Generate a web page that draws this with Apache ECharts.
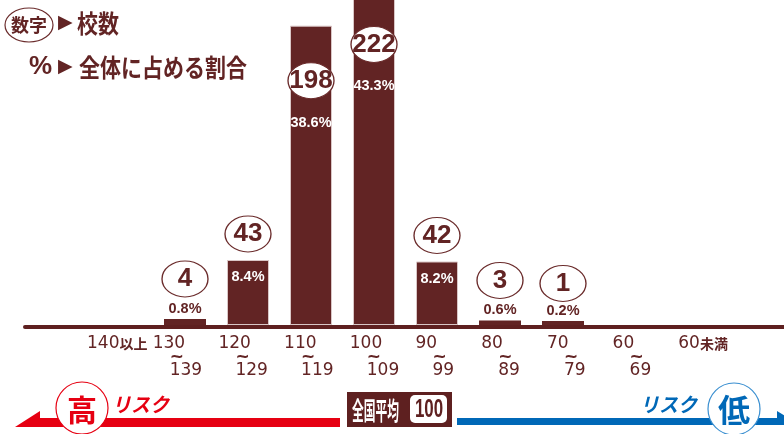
<!DOCTYPE html>
<html><head><meta charset="utf-8">
<script src="https://cdn.jsdelivr.net/npm/echarts@6/dist/echarts.min.js"></script>
<style>html,body{margin:0;padding:0;background:#fff}#c{width:784px;height:434px}</style>
</head><body><div id="c"></div>
<script>
const categories = ['140以上','130~139','120~129','110~119','100~109','90~99','80~89','70~79','60~69','60未満'];
const labelTop = ['140以上','130','120','110','100','90','80','70','60','60未満'];
const labelBottom = ['','139','129','119','109','99','89','79','69',''];
const counts = [0,4,43,198,222,42,3,1,0,0];
const shares = [null,0.8,8.4,38.6,43.3,8.2,0.6,0.2,null,null];

const DARK = '#622424';
const chart = echarts.init(document.getElementById('c'));

const barData = counts.map((v,i) => {
  if (!v) return '-';
  let lab, item = {};
  if (v >= 100) lab = {show:true, position:'insideTop', distance:5, offset:[0,84], color:'#fff'};
  else if (v >= 20) lab = {show:true, position:'insideTop', distance:5, offset:[0,4], color:'#fff'};
  else { lab = {show:true, position:'top', distance:5, offset:[0,3], color:DARK}; item = {borderWidth:0}; }
  return {value:v, label:lab, itemStyle:item};
});
const ellData = counts.map(v => v ? {value:v, symbolOffset:[0, v>=100 ? 55 : (v>=20 ? -26 : -40)]} : '-');

const txt = (x,y,text,font,fill,extra) => Object.assign({type:'text', x:x, y:y, z:10,
  style:{text:text, font:font, fill:fill, textAlign:'left', textVerticalAlign:'middle', align:'left', verticalAlign:'middle'}}, extra||{});
const CJK = "'Noto Sans CJK JP', sans-serif";
const topLabel = s => s.replace(/^(\d+)(.*)$/, (m,d,r) => r ? `{a|${d}}{c|${r}}` : `{a|${d}}`);

chart.setOption({
  animation:false,
  grid:[
    {left:90.5, right:63.5, top:0, bottom:109},
    {left:54.15, right:72.85, top:0, bottom:109},
    {left:25, right:0, top:0, bottom:107}
  ],
  xAxis:[
    {gridIndex:0, type:'category', data:categories, show:false},
    {gridIndex:1, type:'category', data:labelTop, axisLine:{show:false}, axisTick:{show:false},
      axisLabel:{interval:0, align:'left', margin:11, color:DARK,
        formatter:(val,idx) => labelBottom[idx] ? `${topLabel(labelTop[idx])}\n{t|~}\n{b|${labelBottom[idx]}}` : topLabel(labelTop[idx]),
        rich:{
          a:{fontFamily:"'DejaVu Sans'", fontSize:17, lineHeight:16, color:DARK},
          c:{fontFamily:"'Noto Sans CJK JP'", fontSize:14, fontWeight:'bold', lineHeight:16, color:DARK},
          t:{fontFamily:"'DejaVu Sans'", fontSize:17, fontWeight:'bold', lineHeight:11, color:DARK, padding:[0,0,0,17]},
          b:{fontFamily:"'DejaVu Sans'", fontSize:17, lineHeight:16, color:DARK, padding:[0,0,0,17]}
        }}},
    {gridIndex:2, type:'value', min:0, max:1, axisLine:{show:true, onZero:false, lineStyle:{color:'#5e2020', width:4}},
      axisTick:{show:false}, axisLabel:{show:false}, splitLine:{show:false}}
  ],
  yAxis:[
    {gridIndex:0, type:'value', min:0, max:215, show:false},
    {gridIndex:1, type:'value', show:false},
    {gridIndex:2, type:'value', show:false}
  ],
  series:[
    {type:'bar', xAxisIndex:0, yAxisIndex:0, data:barData, barWidth:42, barMinHeight:4, clip:false,
      itemStyle:{color:DARK, borderColor:'#d9c6c6', borderWidth:1},
      label:{fontFamily:"'Liberation Sans'", fontWeight:'bold', fontSize:14.5, lineHeight:16,
        formatter:p => shares[p.dataIndex].toFixed(1) + '%'}},
    {type:'scatter', xAxisIndex:0, yAxisIndex:0, data:ellData, symbol:'circle', symbolSize:[46,36], z:5, clip:false,
      itemStyle:{color:'#fff', borderColor:'#6b2c2c', borderWidth:1.2, opacity:1},
      label:{show:true, position:'inside', color:DARK, fontFamily:"'Liberation Sans'", fontWeight:'bold', fontSize:26,
        formatter:p => String(p.value)}}
  ],
  graphic:[
    {type:'ellipse', shape:{cx:29, cy:25, rx:24, ry:17}, style:{fill:'#fff', stroke:'#6b2c2c', lineWidth:1.2}, z:10},
    {type:'text', x:29, y:25, z:11, style:{text:'数字', font:"bold 18px "+CJK, fill:DARK, textAlign:'center', textVerticalAlign:'middle', align:'center', verticalAlign:'middle'}},
    txt(58, 23, '▶', "19px 'DejaVu Sans'", DARK),
    txt(77, 23, '校数', "bold 25px "+CJK, DARK, {scaleX:0.84}),
    txt(29, 67, '%', "bold 26px 'Liberation Sans'", DARK),
    txt(58, 67, '▶', "19px 'DejaVu Sans'", DARK),
    txt(79, 67, '全体に占める割合', "bold 25px "+CJK, DARK, {scaleX:0.84}),
    {type:'polygon', z:10, shape:{points:[[15,427],[40,411],[40,418],[340,418],[340,427]]}, style:{fill:'#e60012'}},
    {type:'circle', z:11, shape:{cx:82, cy:408, r:26}, style:{fill:'#fff', stroke:'#e60012', lineWidth:1.2}},
    {type:'text', x:82, y:410, z:12, style:{text:'高', font:"bold 30px "+CJK, fill:'#e60012', textAlign:'center', textVerticalAlign:'middle', align:'center', verticalAlign:'middle'}},
    txt(112, 404, 'リスク', "italic bold 20px "+CJK, '#e60012', {scaleX:0.95}),
    {type:'rect', z:10, shape:{x:347, y:392, width:105, height:35}, style:{fill:'#5e2020'}},
    txt(352, 410, '全国平均', "bold 25px "+CJK, '#fff', {scaleX:0.47}),
    {type:'rect', z:11, shape:{x:410, y:395, width:37, height:28, r:5}, style:{fill:'#fff'}},
    {type:'text', x:429, y:410, z:12, scaleX:0.65, originX:0, style:{text:'100', font:"bold 26px 'Liberation Sans'", fill:'#5e2020', textAlign:'center', textVerticalAlign:'middle', align:'center', verticalAlign:'middle'}},
    {type:'polygon', z:10, shape:{points:[[457,418],[777,418],[777,411],[800,425],[457,425]]}, style:{fill:'#0068b7'}},
    {type:'circle', z:11, shape:{cx:734, cy:409, r:26}, style:{fill:'#fff', stroke:'#3a8fd0', lineWidth:1.2}},
    {type:'text', x:734, y:410, z:12, style:{text:'低', font:"bold 32px "+CJK, fill:'#0068b7', textAlign:'center', textVerticalAlign:'middle', align:'center', verticalAlign:'middle'}},
    txt(640, 404, 'リスク', "italic bold 20px "+CJK, '#0068b7', {scaleX:0.95})
  ]
});
</script></body></html>
